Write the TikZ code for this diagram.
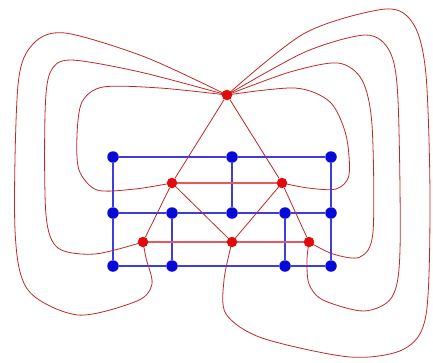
\documentclass[tikz,border=0pt]{standalone}
\usetikzlibrary{arrows.meta,positioning,calc}
\definecolor{gridblue}{HTML}{0808D8}
\definecolor{edgeblue}{HTML}{3C3CE0}
\definecolor{loopred}{HTML}{C02828}
\definecolor{dotred}{HTML}{E20A0A}
\definecolor{barred}{HTML}{E85A5A}
\pgfdeclarelayer{back}
\pgfsetlayers{back,main}
\tikzset{bdot/.style={circle,fill=gridblue,inner sep=0pt,minimum size=11.5pt},
  rdot/.style={circle,fill=dotred,inner sep=0pt,minimum size=10.5pt},
  gridline/.style={edgeblue,line width=1.2pt},
  redbar/.style={barred,line width=1.8pt},
  redline/.style={loopred,line width=.8pt},
  redloop/.style={loopred,line width=.8pt}}

\begin{document}
\begin{tikzpicture}[x=1pt,y=-1pt]
\useasboundingbox (0,0) rectangle (433,362);
\foreach \n/\x/\y in {g11/113/157,g12/232/157,g13/331/157,g21/113/213,g22/172/213,g23/232/213,g24/285/213,g25/331/213,g31/113/266,g32/172/266,g33/285/266,g34/331/266}
  \node[bdot] (\n) at (\x,\y) {};
\node[rdot] (apex) at (227,95) {};
\node[rdot] (ml) at (172,183) {};\node[rdot] (mr) at (282,183) {};
\node[rdot] (ll) at (143,242) {};\node[rdot] (lc) at (232,242) {};\node[rdot] (lr) at (309,242) {};
\begin{pgfonlayer}{back}
% blue grid
\draw[gridline] (g11)--(g12)--(g13) (g21)--(g22)--(g23)--(g24)--(g25) (g31)--(g32)--(g33)--(g34);
\draw[gridline] (g11)--(g21)--(g31) (g13)--(g25)--(g34) (g12)--(g23) (g22)--(g32) (g24)--(g33);
% red graph
\draw[redbar] (ml)--(mr) (ll)--(lc)--(lr);
\draw[redline] (apex)--(ml) (apex)--(mr) (ml)--(ll) (ml)--(lc) (mr)--(lc) (mr)--(lr);
% loops on the left
\draw[redloop] plot[smooth] coordinates {(apex.center) (160,88) (103,87) (82,102) (77,135) (79,170) (97,190) (135,189) (ml.center)};
\draw[redloop] plot[smooth] coordinates {(apex.center) (140,72) (70,60) (50,73) (45,115) (46,215) (58,248) (95,254) (ll.center)};
\draw[redloop] plot[smooth] coordinates {(apex.center) (145,57) (65,33) (33,44) (18,85) (15,230) (28,290) (78,315) (137,301) (152,284) (146,258) (ll.center)};
% loops on the right
\draw[redloop] plot[smooth] coordinates {(apex.center) (295,88) (330,102) (346,135) (349,175) (336,189) (308,188) (mr.center)};
\draw[redloop] plot[smooth] coordinates {(apex.center) (290,72) (338,63) (362,80) (372,125) (373,232) (360,257) (333,254) (lr.center)};
\draw[redloop] plot[smooth] coordinates {(apex.center) (305,52) (366,35) (390,52) (398,100) (400,250) (392,297) (364,311) (323,300) (309,284) (307,260) (lr.center)};
\draw[redloop] plot[smooth] coordinates {(apex.center) (305,33) (386,9) (414,25) (426,75) (430,200) (426,315) (404,349) (350,357) (262,338) (226,314) (224,280) (lc.center)};
\end{pgfonlayer}
\end{tikzpicture}
\end{document}
